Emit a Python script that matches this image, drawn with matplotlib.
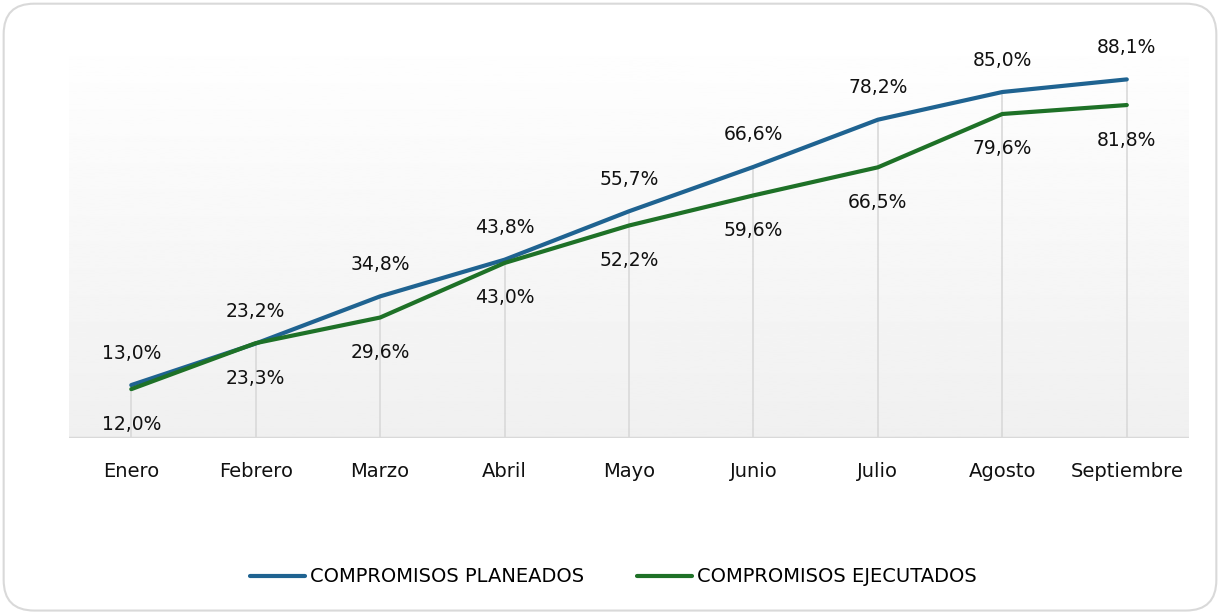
import numpy as np
import matplotlib.pyplot as plt
from matplotlib.patches import FancyBboxPatch

# Datos
meses = ['Enero', 'Febrero', 'Marzo', 'Abril', 'Mayo', 'Junio', 'Julio', 'Agosto', 'Septiembre']
planeados = [13.0, 23.2, 34.8, 43.8, 55.7, 66.6, 78.2, 85.0, 88.1]
ejecutados = [12.0, 23.3, 29.6, 43.0, 52.2, 59.6, 66.5, 79.6, 81.8]

azul = '#1f6391'
verde = '#1e7127'

fig = plt.figure(figsize=(12.2, 6.13), dpi=100)

# Marco redondeado
marco = FancyBboxPatch((0.003, 0.004), 0.994, 0.99,
                       boxstyle='round,pad=0,rounding_size=0.025',
                       transform=fig.transFigure, facecolor='none',
                       edgecolor='#d9d9d9', linewidth=1.5, mutation_aspect=1220 / 613)
fig.patches.append(marco)

ax = fig.add_axes([0.0566, 0.2855, 0.918, 0.664])
ax.set_facecolor('none')
x = np.arange(len(meses))
ax.set_xlim(-0.5, len(meses) - 0.5)

# Fondo degradado
grad = np.linspace(1.0, 0.94, 256).reshape(-1, 1)
ax.imshow(grad, extent=(-0.5, len(meses) - 0.5, 0, 100), cmap='gray', vmin=0, vmax=1,
          aspect='auto', zorder=0, origin='upper')
ax.set_ylim(0, 100)

# Líneas de caída
tope = np.maximum(planeados, ejecutados)
ax.vlines(x, 0, tope, color='#d9d9d9', linewidth=1.2, zorder=1)
ax.axhline(0, color='#d9d9d9', linewidth=2.5, zorder=1)

ax.plot(x, planeados, color=azul, linewidth=3, solid_capstyle='round',
        label='COMPROMISOS PLANEADOS', zorder=3)
ax.plot(x, ejecutados, color=verde, linewidth=3, solid_capstyle='round',
        label='COMPROMISOS EJECUTADOS', zorder=3)

for i in range(len(meses)):
    ax.annotate(f'{planeados[i]:.1f}%'.replace('.', ','), (x[i], planeados[i]),
                xytext=(0, 32), textcoords='offset pixels', ha='center', va='center',
                fontsize=13.5, color='#111111')
    ax.annotate(f'{ejecutados[i]:.1f}%'.replace('.', ','), (x[i], ejecutados[i]),
                xytext=(0, -35), textcoords='offset pixels', ha='center', va='center',
                fontsize=13.5, color='#111111')

ax.set_xticks(x)
ax.set_xticklabels(meses, fontsize=14, color='#111111')
ax.tick_params(axis='x', length=0, pad=17)
ax.set_yticks([])
for s in ax.spines.values():
    s.set_visible(False)

fig.legend(loc='center', bbox_to_anchor=(0.503, 0.059), ncol=2, frameon=False,
           fontsize=14, handlelength=2.8, handletextpad=0.3, columnspacing=2.7)

fig.savefig('out.png', dpi=100)
